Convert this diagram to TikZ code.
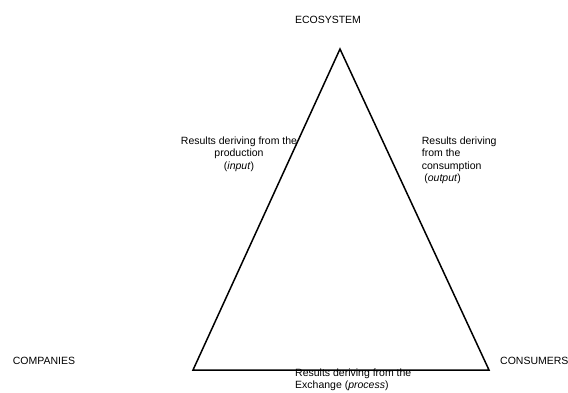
\documentclass[tikz,border=0pt]{standalone}
\usepackage{fontspec}
\setmainfont{Liberation Sans}
\begin{document}
\begin{tikzpicture}[x=1pt,y=-1pt,
  lbl/.style={inner sep=0pt,font=\fontsize{10.5}{12.5}\selectfont},
  edge/.style={line width=1.5pt,line join=miter}]
\useasboundingbox (0,0) rectangle (568,392);
\coordinate (top) at (340,49);
\coordinate (bl) at (193,370);
\coordinate (br) at (489,370);
\node[lbl] (eco) at (328,20) {ECOSYSTEM};
\node[lbl] (comp) at (44,361) {COMPANIES};
\node[lbl,anchor=west] (cons) at (500,361) {CONSUMERS};
\node[lbl,align=center] (prod) at (239,154) {Results deriving from the\\production\\(\textit{input})};
\node[lbl,align=left,anchor=west] (cons2) at (421.7,160.5) {Results deriving\\from the\\consumption\\\hspace*{2.5pt}(\textit{output})};
\node[lbl,align=left,anchor=west] (exch) at (295,380) {Results deriving from the\\Exchange (\textit{process})};
\draw[edge] (top) -- (br) -- (bl) -- cycle;
\end{tikzpicture}
\end{document}
